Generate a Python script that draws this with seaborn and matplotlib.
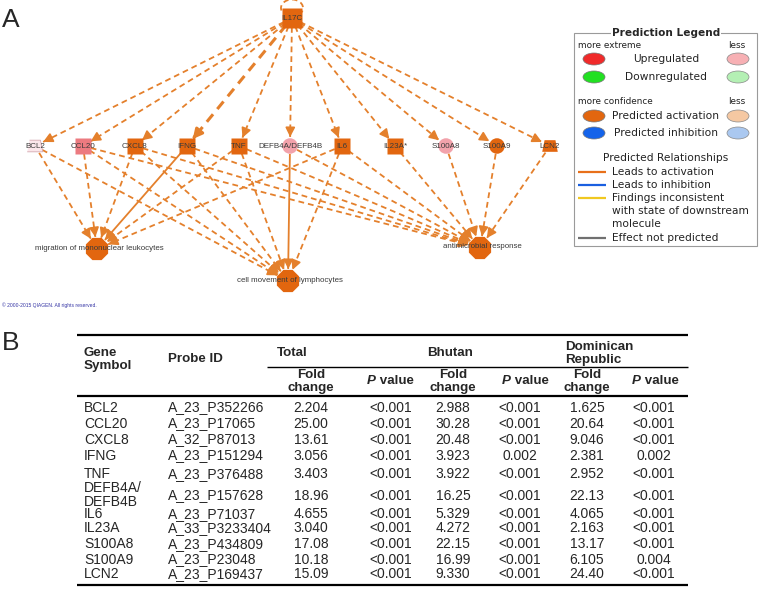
"""IPA network (A) and fold-change table (B) for IL17C downstream genes."""

import matplotlib

matplotlib.use("Agg")

import matplotlib.pyplot as plt
import numpy as np
import pandas as pd
import seaborn as sns
from matplotlib.patches import Arc, Ellipse, Rectangle

# ---- data -----------------------------------------------------------------
genes = ["BCL2", "CCL20", "CXCL8", "IFNG", "TNF", "DEFB4A/DEFB4B",
         "IL6", "IL23A", "S100A8", "S100A9", "LCN2"]
network_labels = ["BCL2", "CCL20", "CXCL8", "IFNG", "TNF", "DEFB4A/DEFB4B",
                  "IL6", "IL23A*", "S100A8", "S100A9", "LCN2"]
probe_ids = ["A_23_P352266", "A_23_P17065", "A_32_P87013", "A_23_P151294",
             "A_23_P376488", "A_23_P157628", "A_23_P71037", "A_33_P3233404",
             "A_23_P434809", "A_23_P23048", "A_23_P169437"]
total_fc = [2.204, 25.00, 13.61, 3.056, 3.403, 18.96, 4.655, 3.040, 17.08, 10.18, 15.09]
total_p = ["<0.001"] * 11
bhutan_fc = [2.988, 30.28, 20.48, 3.923, 3.922, 16.25, 5.329, 4.272, 22.15, 16.99, 9.330]
bhutan_p = ["<0.001", "<0.001", "<0.001", "0.002", "<0.001", "<0.001",
            "<0.001", "<0.001", "<0.001", "<0.001", "<0.001"]
dominican_fc = [1.625, 20.64, 9.046, 2.381, 2.952, 22.13, 4.065, 2.163, 13.17, 6.105, 24.40]
dominican_p = ["<0.001", "<0.001", "<0.001", "0.002", "<0.001", "<0.001",
               "<0.001", "<0.001", "<0.001", "0.004", "<0.001"]

regulator = "IL17C"
processes = ["migration of mononuclear leukocytes", "cell movement of lymphocytes",
             "antimicrobial response"]
migration_sources = ["BCL2", "CCL20", "CXCL8", "IFNG", "TNF", "IL6"]
lymphocyte_sources = ["BCL2", "CCL20", "CXCL8", "IFNG", "TNF", "DEFB4A/DEFB4B", "IL6"]
antimicrobial_sources = ["CCL20", "CXCL8", "IFNG", "TNF", "DEFB4A/DEFB4B",
                         "IL6", "IL23A", "S100A8", "S100A9", "LCN2"]
solid_edges = [("IFNG", processes[0]), ("DEFB4A/DEFB4B", processes[1])]

gene_state = ["weak_up", "up", "act", "act", "act", "mid_up",
              "act", "act", "mid_up", "act", "act"]
gene_shape = ["transporter", "cytokine", "cytokine", "cytokine", "cytokine", "other",
              "cytokine", "cytokine", "other", "other", "transporter"]

legend_rows = [("Upregulated", "#f02a2a", "#f7b0b4"),
               ("Downregulated", "#22e022", "#b4f0b4"),
               ("Predicted activation", "#e2660f", "#f5c8a2"),
               ("Predicted inhibition", "#1463ea", "#aac8f0")]
relationship_labels = ["Leads to activation", "Leads to inhibition",
                       "Findings inconsistent", "Effect not predicted"]
inconsistent_extra = ["with state of downstream", "molecule"]
relationship_colors = ["#e8701a", "#1a5fe0", "#f0c820", "#707070"]

# ---- layout (pixel coordinates) ------------------------------------------
gene_x = [35, 83, 135, 187, 239, 290, 342, 395, 446, 497, 550]
gene_y = 146
process_xy = [(97, 249), (288, 281), (480, 248)]
regulator_xy = (292, 18)
row_y = [406, 422, 438, 454, 473, 494, 513, 527, 543, 558, 573]
col_fc = [311, 453, 587]
col_p = [391, 520, 654]
col_p_head = [391, 526, 656]

EDGE = "#e4802c"
ORANGE = "#e2660f"
state_colors = {"act": ORANGE, "up": "#ec7a80", "mid_up": "#f2a2ab", "weak_up": "#fbe6ea"}
shape_markers = {
    "cytokine": "s",
    "other": "o",
    "transporter": [(-1.0, -0.75), (1.0, -0.75), (0.7, 0.75), (-0.7, 0.75)],
    "regulator": "s",
    "process": "8",
}

sns.set_style("white")
plt.rcParams["font.family"] = ["Liberation Sans", "DejaVu Sans"]

fig = plt.figure(figsize=(7.6, 6.02), dpi=100)
ax = fig.add_axes([0, 0, 1, 1])

pos = {g: (x, gene_y) for g, x in zip(genes, gene_x)}
pos[regulator] = regulator_xy
for p, xy in zip(processes, process_xy):
    pos[p] = xy


def draw_edge(src, dst, solid=False, lw=1.3, start=8, end=9):
    p0 = np.array(pos[src], float)
    p1 = np.array(pos[dst], float)
    u = (p1 - p0) / np.linalg.norm(p1 - p0)
    a = p0 + u * start
    b = p1 - u * end
    ls = "-" if solid else (0, (3.2, 2.2))
    ax.plot([a[0], b[0]], [a[1], b[1]], color=EDGE, lw=lw, linestyle=ls,
            solid_capstyle="butt", zorder=1)
    ax.annotate("", xy=b, xytext=b - u * 3,
                arrowprops=dict(arrowstyle="-|>,head_length=0.55,head_width=0.28",
                                color=EDGE, lw=lw, shrinkA=0, shrinkB=0),
                zorder=2)


# edges from IL17C to every gene
for g in genes:
    draw_edge(regulator, g, lw=2.2 if g == "IFNG" else 1.3, start=9, end=9)
for src_list, proc in zip([migration_sources, lymphocyte_sources, antimicrobial_sources],
                          processes):
    for g in src_list:
        draw_edge(g, proc, solid=(g, proc) in solid_edges, start=8, end=12)

# self loop on IL17C
ax.add_patch(Arc((regulator_xy[0], regulator_xy[1] - 10), 22, 17, theta1=115, theta2=65,
                 color=EDGE, lw=1.3, linestyle=(0, (3, 2)), zorder=1))

# nodes
nodes = pd.DataFrame({
    "x": gene_x + [regulator_xy[0]] + [p[0] for p in process_xy],
    "y": [gene_y] * len(genes) + [regulator_xy[1]] + [p[1] for p in process_xy],
    "node": genes + [regulator] + processes,
    "shape": gene_shape + ["regulator"] + ["process"] * 3,
    "kind": ["gene"] * len(genes) + ["regulator"] + ["process"] * 3,
})
node_colors = {g: state_colors[s] for g, s in zip(genes, gene_state)}
node_colors[regulator] = ORANGE
for p in processes:
    node_colors[p] = ORANGE
edge_cols = ["#d4a8b0" if n == "BCL2" else "none" for n in nodes["node"]]
sns.scatterplot(data=nodes, x="x", y="y", hue="node", palette=node_colors,
                style="shape", markers=shape_markers, size="kind",
                sizes={"gene": 125, "regulator": 190, "process": 300},
                edgecolor=edge_cols, linewidth=0.6, legend=False, ax=ax, zorder=3)

for lab, x in zip(network_labels, gene_x):
    ax.text(x, gene_y, lab, ha="center", va="center", fontsize=5.8, color="#3a3a3a", zorder=4)
ax.text(*regulator_xy, regulator, ha="center", va="center", fontsize=5.8, color="#3a3a3a",
        zorder=4)
for p, (x, y) in zip(processes, process_xy):
    ax.text(x + 2, y - 1, p, ha="center", va="center", fontsize=5.7, color="#3a3a3a", zorder=4)

ax.text(2, 305, "\u00a9 2000-2015 QIAGEN. All rights reserved.", fontsize=3.6,
        color="#3535a5", va="center")

# prediction legend
leg_font = "DejaVu Sans"
LF = 7.7
ax.add_patch(Rectangle((574, 33), 183, 213, fill=False, edgecolor="#9a9a9a", lw=0.8))
ax.text(666, 33, "Prediction Legend", ha="center", va="center", fontsize=7.6,
        fontweight="bold", family=leg_font,
        bbox=dict(facecolor="white", edgecolor="none", pad=1.0))
for y, left in [(45, "more extreme"), (102, "more confidence")]:
    ax.text(578, y, left, fontsize=6.4, va="center", family=leg_font, color="#222222")
    ax.text(745, y, "less", fontsize=6.4, va="center", ha="right", family=leg_font,
            color="#222222")
for (lab, dark, light), y in zip(legend_rows, [59, 77, 116, 133]):
    ax.add_patch(Ellipse((594, y), 22, 12, facecolor=dark, edgecolor="#777777", lw=0.5))
    ax.add_patch(Ellipse((738, y), 22, 12, facecolor=light, edgecolor="#888888", lw=0.5))
    ax.text(666, y, lab, ha="center", va="center", fontsize=LF, family=leg_font,
            color="#222222")
ax.text(666, 158, "Predicted Relationships", ha="center", va="center", fontsize=LF,
        family=leg_font, color="#222222")
for lab, col, y in zip(relationship_labels, relationship_colors, [172, 185, 198, 238]):
    ax.plot([578, 606], [y, y], color=col, lw=1.6, solid_capstyle="butt")
    ax.text(612, y, lab, ha="left", va="center", fontsize=LF, family=leg_font,
            color="#222222")
for lab, y in zip(inconsistent_extra, [211, 224]):
    ax.text(612, y, lab, ha="left", va="center", fontsize=LF, family=leg_font,
            color="#222222")

# panel letters
ax.text(2, 20, "A", fontsize=19, va="center", ha="left")
ax.text(2, 343, "B", fontsize=19, va="center", ha="left")

# ---- table ---------------------------------------------------------------
TS = 10
ax.hlines([335, 396, 585], 77, 688, color="black", lw=1.6)
ax.hlines(367, 267, 688, color="black", lw=1.0)
hdr = dict(fontsize=9.6, fontweight="bold", va="center_baseline")
ax.text(84, 351, "Gene", **hdr)
ax.text(84, 364, "Symbol", **hdr)
ax.text(168, 358, "Probe ID", **hdr)
ax.text(277, 352, "Total", **hdr)
ax.text(427, 352, "Bhutan", **hdr)
ax.text(565, 345, "Dominican", **hdr)
ax.text(565, 359, "Republic", **hdr)
for cx in col_fc:
    ax.text(cx, 373, "Fold", ha="center", **hdr)
    ax.text(cx, 386, "change", ha="center", **hdr)
for cx in col_p_head:
    split = cx - 15
    ax.text(split, 380, "P", ha="right", style="italic", **hdr)
    ax.text(split, 380, " value", ha="left", **hdr)

cell = dict(fontsize=TS, va="center_baseline")
for i, y in enumerate(row_y):
    if "/" in genes[i]:
        first, second = genes[i].split("/")
        ax.text(84, y - 7, first + "/", **cell)
        ax.text(84, y + 6, second, **cell)
    else:
        ax.text(84, y, genes[i], **cell)
    ax.text(168, y, probe_ids[i], **cell)
    for cx, vals in zip(col_fc, [total_fc, bhutan_fc, dominican_fc]):
        ax.text(cx, y, f"{vals[i]:#.4g}", ha="center", **cell)
    for cx, vals in zip(col_p, [total_p, bhutan_p, dominican_p]):
        ax.text(cx, y, vals[i], ha="center", **cell)

ax.set_xlim(0, 760)
ax.set_ylim(602, 0)
ax.axis("off")
fig.savefig("out.png", dpi=100)
plt.close(fig)
